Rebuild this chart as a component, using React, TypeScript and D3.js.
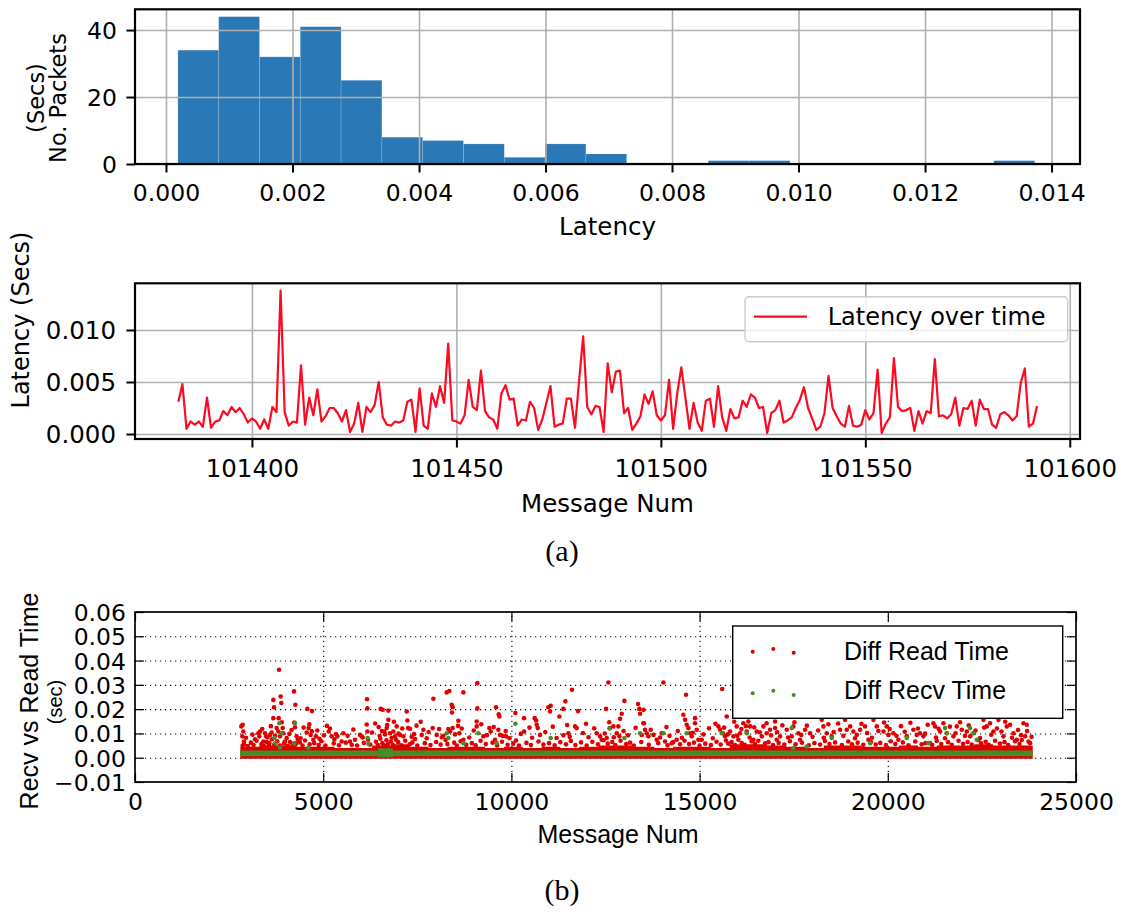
import React, { useEffect, useRef } from 'react';
import * as d3 from 'd3';

// ---- (a) top: histogram of latency ----
const histStart = 0.000188;
const histBinWidth = 0.000645;
const histCounts = [34, 44, 32, 41, 25, 8, 7, 6, 2, 6, 3, 0, 0, 1, 1, 0, 0, 0, 0, 0, 1];
const histXTicks = [0, 0.002, 0.004, 0.006, 0.008, 0.01, 0.012, 0.014];
const histYTicks = [0, 20, 40];

// ---- (a) bottom: latency over time (ms), one value per message ----
const firstMessage = 101382;
const latencyMs = [
  3.1, 4.8, 0.5, 1.2, 0.9, 1.2, 0.7, 3.5, 0.6, 1.2,
  1.3, 2.2, 1.8, 2.6, 2.1, 2.5, 1.9, 1.1, 1.5, 1.2,
  0.5, 1.4, 0.5, 2.6, 2.1, 13.8, 2.1, 0.8, 1.2, 1.1,
  6.6, 0.9, 3.5, 1.8, 4.3, 1.2, 1.7, 2.5, 2.5, 2.0,
  1.2, 2.3, 0.2, 1.0, 3.0, 0.2, 2.6, 2.1, 2.8, 5.0,
  1.6, 0.9, 0.8, 1.2, 1.1, 1.3, 3.1, 3.3, 0.2, 4.4,
  0.8, 0.5, 3.9, 2.6, 4.6, 3.0, 8.7, 1.3, 1.2, 1.0,
  1.8, 5.2, 2.6, 2.3, 6.1, 2.2, 1.6, 1.4, 0.5, 3.9,
  4.7, 3.3, 3.4, 0.8, 1.4, 1.3, 3.1, 2.5, 0.4, 1.4,
  3.0, 4.6, 0.7, 0.9, 1.0, 3.4, 3.4, 0.6, 5.1, 9.4,
  2.6, 1.9, 2.7, 2.6, 0.2, 6.8, 4.0, 6.0, 6.1, 2.0,
  2.5, 0.4, 1.0, 1.7, 3.8, 2.9, 4.1, 1.8, 1.3, 1.8,
  5.2, 0.5, 3.9, 6.4, 3.5, 0.5, 3.0, 1.1, 0.3, 3.2,
  3.4, 0.7, 4.6, 1.6, 0.3, 2.4, 1.5, 1.6, 3.2, 2.6,
  3.8, 3.5, 2.5, 2.6, 0.1, 2.0, 2.3, 3.2, 1.1, 1.3,
  1.6, 2.5, 3.3, 4.5, 2.5, 1.5, 0.4, 0.7, 2.0, 5.6,
  2.5, 1.7, 1.0, 0.7, 2.7, 0.8, 0.7, 0.9, 2.3, 1.4,
  2.0, 6.2, 0.1, 1.0, 1.6, 7.3, 2.6, 2.2, 2.3, 2.5,
  0.3, 2.2, 1.0, 2.2, 2.0, 7.2, 1.7, 1.8, 1.5, 1.9,
  3.5, 0.8, 2.5, 2.4, 3.2, 0.8, 3.3, 2.4, 2.4, 0.9,
  0.6, 1.9, 2.1, 1.8, 1.3, 1.7, 4.9, 6.3, 0.7, 1.0, 2.7,
];
const lineXTicks = [101400, 101450, 101500, 101550, 101600];
const lineYTicks = [0, 0.005, 0.01];

// ---- (b): recv vs read time (message num, ms) ----
const scatterXTicks = [0, 5000, 10000, 15000, 20000, 25000];
const scatterYTicks = [-0.01, 0, 0.01, 0.02, 0.03, 0.04, 0.05, 0.06];

// top of the dense red band, [message, ms]
const readBand = [
  [2800, 4.5], [3300, 5.0], [3800, 5.0], [4300, 4.5], [4800, 4.5], [5300, 4.0], [5800, 4.0],
  [6300, 5.0], [6800, 5.5], [7300, 4.5], [7800, 4.0], [8300, 4.5], [8800, 4.5], [9300, 4.0],
  [9800, 4.5], [10300, 4.0], [10800, 4.5], [11300, 4.0], [11800, 4.5], [12300, 5.0], [12800, 5.0],
  [13300, 4.5], [13800, 4.0], [14300, 4.5], [14800, 4.5], [15300, 4.0], [15800, 5.5], [16300, 5.5],
  [16800, 5.0], [17300, 4.5], [17800, 4.0], [18300, 5.0], [18800, 5.0], [19300, 4.5], [19800, 4.5],
  [20300, 5.0], [20800, 4.5], [21300, 5.0], [21800, 5.0], [22300, 5.5], [22800, 5.0], [23300, 5.0],
  [23850, 5.0],
];
// dense green band, [message, low ms, high ms]
const recvBand = [
  [2790, 0.6, 3.0], [6450, 0.2, 3.9], [6850, 0.6, 3.0], [23850, 0.6, 3.0],
];

const readPoints = [
  [2861, 13.6], [2825, 12.9], [2878, 10.8], [2852, 8.8], [2896, 6.7], [2861, 5.0], [3277, 10.1],
  [3321, 10.8], [3303, 8.8], [3454, 10.1], [3481, 8.8], [3410, 6.7], [3587, 9.4], [3631, 10.4],
  [3569, 6.0], [3675, 23.8], [3693, 20.8], [3675, 16.3], [3817, 16.3], [3826, 36.2], [3870, 25.2],
  [3888, 22.5], [3764, 12.2], [3808, 10.8], [3853, 8.8], [3923, 12.2], [3941, 10.1], [3985, 6.7],
  [4030, 8.1], [4225, 27.3], [4260, 21.8], [4233, 14.5], [4251, 12.5], [4295, 8.8], [4322, 7.4],
  [4579, 20.1], [4703, 19.2], [4632, 13.8], [4614, 12.2], [4561, 10.4], [4667, 9.4], [4738, 7.4],
  [4844, 11.2], [4809, 8.8], [5181, 12.0], [5146, 10.8], [5225, 8.8], [5340, 9.7], [5376, 8.8],
  [5535, 10.1], [5491, 6.7], [5713, 6.7], [5845, 7.4], [5978, 9.4], [6022, 8.8], [6164, 24.1],
  [6173, 20.3], [6155, 13.7], [6173, 10.8], [6191, 7.4], [6474, 12.6], [6527, 20.1], [6581, 19.7],
  [6731, 19.4], [6731, 15.6], [6687, 12.2], [6775, 10.1], [6625, 10.8], [6864, 10.8], [6908, 8.8],
  [6953, 12.9], [6935, 7.4], [7041, 9.4], [7130, 8.8], [7218, 19.0], [7236, 15.3], [7254, 12.2],
  [7307, 11.9], [7413, 9.7], [7440, 7.7], [7590, 14.8], [7617, 9.4], [7661, 11.5], [7927, 24.3],
  [7909, 12.2], [8015, 9.4], [8193, 9.0], [8281, 26.9], [8352, 27.5], [8414, 21.8], [8440, 20.8],
  [8423, 18.6], [8325, 11.8], [8370, 10.8], [8440, 12.2], [8591, 15.2], [8582, 13.1], [8617, 10.1],
  [8724, 26.9], [8724, 7.4], [9096, 30.7], [9096, 20.3], [9078, 14.9], [9078, 12.9], [9255, 8.8],
  [9415, 12.2], [9450, 10.8], [9592, 20.8], [9663, 17.9], [9681, 17.0], [9654, 11.5], [9698, 9.4],
  [9769, 9.0], [9858, 8.8], [9565, 7.4], [10106, 18.4], [10123, 7.1], [10336, 16.3], [10336, 10.8],
  [10619, 16.3], [10655, 15.3], [10673, 13.6], [10699, 12.2], [10761, 9.4], [10982, 20.8],
  [11044, 21.4], [11027, 19.0], [11275, 17.0], [11381, 9.2], [11434, 23.2], [11381, 20.1],
  [11514, 10.1], [11611, 28.0], [11691, 12.9], [11771, 19.2], [11735, 12.2], [11983, 14.0],
  [12267, 10.1], [12355, 8.8], [12400, 7.4], [12532, 8.1], [12577, 31.0], [12515, 20.1],
  [12621, 12.2], [12710, 12.9], [12842, 12.9], [12887, 16.0], [12931, 18.1], [13002, 23.4],
  [12798, 10.1], [12869, 8.8], [13365, 22.1], [13400, 20.1], [13418, 18.1], [13507, 14.2],
  [13551, 11.5], [13595, 10.1], [13640, 8.8], [13507, 19.7], [13524, 14.2], [13462, 9.4],
  [13772, 9.4], [13861, 7.4], [13994, 10.1], [14038, 31.0], [14082, 6.7], [14259, 6.0],
  [14392, 7.4], [14569, 17.7], [14614, 15.6], [14640, 25.9], [14658, 13.6], [14702, 12.2],
  [14747, 10.1], [14791, 8.8], [14880, 16.3], [14880, 14.2], [14924, 11.5], [14968, 7.4],
  [15057, 7.4], [15499, 12.9], [15544, 11.5], [15600, 28.3], [15615, 10.1], [15677, 8.8],
  [15721, 17.0], [15809, 10.8], [15898, 8.8], [15986, 12.9], [16075, 10.1], [16163, 14.2],
  [16252, 10.8], [16296, 14.9], [16341, 12.9], [16429, 7.4], [16518, 10.8], [16651, 8.8],
  [16695, 12.9], [16784, 10.1], [16872, 11.5], [17005, 14.9], [17005, 12.2], [17049, 7.4],
  [17138, 8.8], [17315, 11.5], [17448, 8.8], [17492, 12.9], [17625, 10.1], [17669, 7.4],
  [17802, 11.5], [17935, 10.1], [18245, 15.6], [18289, 12.9], [18378, 10.1], [18511, 8.8],
  [18732, 11.5], [18865, 15.6], [18909, 11.5], [19086, 10.8], [19175, 9.4], [19264, 11.5],
  [19396, 12.9], [19485, 7.4], [19618, 15.6], [19707, 12.9], [19884, 10.8], [19972, 12.9],
  [20016, 9.4], [20149, 10.1], [20282, 7.4], [20504, 8.8], [20681, 11.5], [20769, 9.4],
  [20858, 10.1], [20946, 8.8], [21123, 6.0], [21212, 14.2], [21256, 12.9], [21389, 10.8],
  [21478, 14.2], [21566, 10.1], [21744, 8.8], [21832, 12.9], [21965, 11.5], [22098, 10.8],
  [22187, 8.8], [22275, 10.1], [22541, 15.6], [22630, 12.9], [22718, 14.2], [22807, 10.8],
  [22940, 15.6], [23072, 8.8], [23161, 12.9], [23250, 13.6], [23338, 10.1], [23427, 7.4],
  [23604, 14.2], [23692, 13.6], [23648, 8.8], [23737, 6.7],
  [2900, 5.5], [3000, 4.8], [3080, 6.2], [3150, 5.2], [3230, 7.0], [3360, 5.6], [3420, 4.9],
  [3500, 6.4], [3560, 5.1], [3640, 7.6], [3700, 5.4], [3780, 6.8], [3850, 5.0], [3960, 5.9],
  [4060, 4.9], [4120, 6.5], [4190, 5.4], [4280, 5.8], [4380, 6.3], [4450, 5.0], [4520, 7.1],
  [4640, 5.5], [4760, 6.0], [4880, 5.2], [4950, 6.8], [5060, 5.0], [5280, 5.9], [5420, 5.1],
  [5600, 6.2], [5760, 5.3], [5900, 5.0], [6080, 6.1], [6250, 5.4], [6400, 6.6], [6450, 5.2],
  [6520, 7.8], [6570, 6.0], [6620, 5.1], [6680, 7.2], [6720, 5.6], [6800, 6.7], [6850, 5.3],
  [6990, 6.4], [7080, 5.1], [7180, 7.0], [7300, 5.5], [7370, 6.3], [7500, 5.0], [7700, 6.0],
  [7850, 5.2], [8000, 6.5], [8120, 5.4], [8250, 7.3], [8300, 5.6], [8480, 6.2], [8550, 5.0],
  [8650, 6.8], [8800, 5.3], [8950, 6.0], [9050, 5.1], [9180, 7.0], [9320, 5.6], [9500, 6.2],
  [9620, 5.0], [9750, 6.6], [9900, 5.3], [10050, 5.8], [10200, 5.0], [10400, 6.1], [10520, 5.2],
  [10720, 6.7], [10850, 5.4], [11000, 6.0], [11150, 5.1], [11300, 6.4], [11450, 5.5], [11580, 6.9],
  [11700, 5.2], [11850, 6.3], [12000, 5.0], [12150, 6.6], [12300, 5.5], [12450, 7.2], [12560, 5.8],
  [12680, 6.5], [12760, 5.2], [12900, 7.0], [13050, 5.6], [13150, 6.2], [13250, 5.0], [13450, 6.5],
  [13650, 5.3], [13900, 6.0], [14150, 5.1], [14300, 6.4], [14480, 5.5], [14600, 7.0], [14720, 5.6],
  [14850, 6.2], [15000, 5.0], [15150, 5.8], [15300, 5.2], [15450, 6.6], [15560, 5.4], [15700, 7.1],
  [15760, 5.8], [15850, 6.5], [15940, 5.2], [16030, 7.4], [16120, 6.0], [16200, 5.3], [16380, 6.8],
  [16470, 5.6], [16560, 7.0], [16740, 5.9], [16830, 6.4], [16950, 5.2], [17100, 6.1], [17250, 5.4],
  [17400, 6.8], [17550, 5.5], [17720, 6.2], [17900, 5.1], [18050, 6.0], [18200, 5.4], [18330, 6.9],
  [18450, 5.6], [18600, 6.3], [18780, 5.2], [18950, 6.7], [19050, 5.5], [19200, 6.2], [19350, 5.3],
  [19550, 6.5], [19680, 5.4], [19800, 6.1], [19950, 5.2], [20080, 6.8], [20200, 5.6], [20400, 6.3],
  [20550, 5.1], [20730, 6.7], [20900, 5.5], [21000, 6.0], [21180, 5.2], [21300, 6.9], [21420, 5.6],
  [21600, 6.4], [21700, 5.3], [21880, 7.0], [22000, 5.7], [22120, 6.5], [22230, 5.4], [22400, 7.2],
  [22480, 5.9], [22600, 6.6], [22680, 5.3], [22850, 7.0], [22980, 5.8], [23100, 6.4], [23200, 5.2],
  [23380, 6.8], [23500, 5.6], [23560, 7.3], [23780, 6.0],
  [2950, 8.2], [3120, 9.5], [3190, 7.6], [3380, 11.8], [3520, 8.4], [3610, 13.0], [3720, 9.0],
  [3900, 14.6], [4100, 9.8], [4160, 11.4], [4400, 8.0], [4480, 12.4], [4700, 10.9], [4900, 7.8],
  [5020, 9.2], [5100, 13.1], [5300, 7.6], [5650, 9.0], [5800, 11.6], [6050, 8.3], [6300, 10.4],
  [6380, 14.1], [6500, 8.9], [6560, 11.0], [6640, 9.6], [6700, 13.4], [6820, 8.2], [6880, 14.8],
  [7000, 9.9], [7100, 12.0], [7350, 8.6], [7480, 13.2], [7750, 8.0], [7800, 10.6], [8080, 11.8],
  [8150, 8.4], [8500, 9.6], [8680, 12.0], [8880, 8.3], [9000, 11.2], [9200, 13.8], [9350, 9.3],
  [9530, 12.6], [9850, 11.0], [9950, 8.0], [10250, 9.8], [10480, 12.4], [10550, 8.2], [10900, 10.6],
  [11100, 12.8], [11200, 8.1], [11480, 13.5], [11550, 8.6], [11900, 10.2], [12050, 8.4], [12200, 12.1],
  [12480, 10.0], [12600, 14.6], [12720, 8.4], [12980, 11.0], [13100, 9.2], [13300, 12.3], [13700, 11.5],
  [13950, 8.3], [14120, 12.6], [14200, 9.0], [14420, 11.0], [14530, 8.2], [14820, 10.3], [15100, 9.6],
  [15250, 12.1], [15350, 8.0], [15420, 14.0], [15650, 12.4], [15750, 9.6], [15920, 14.8], [16000, 9.0],
  [16110, 11.8], [16230, 13.0], [16330, 8.3], [16450, 12.5], [16600, 10.5], [16780, 14.2], [16900, 9.2],
  [17060, 10.5], [17200, 13.3], [17350, 8.3], [17520, 14.6], [17700, 9.4], [17850, 13.2], [18000, 8.6],
  [18150, 11.2], [18300, 8.2], [18420, 13.8], [18560, 10.6], [18680, 14.1], [18820, 9.0], [19000, 12.9],
  [19130, 8.0], [19300, 14.0], [19450, 10.2], [19580, 8.2], [19750, 11.0], [19900, 14.5], [20050, 11.8],
  [20230, 9.0], [20350, 13.0], [20450, 10.7], [20600, 14.4], [20800, 12.0], [20990, 9.9], [21060, 13.6],
  [21280, 8.3], [21350, 11.9], [21520, 8.0], [21650, 12.8], [21800, 10.1], [21920, 14.6], [22050, 9.0],
  [22150, 13.3], [22330, 11.2], [22450, 8.1], [22560, 12.4], [22750, 9.5], [22900, 12.0], [23020, 10.8],
  [23120, 14.8], [23300, 8.2], [23460, 11.4], [23540, 9.3], [23700, 11.0], [23820, 8.6],
];

const recvPoints = [
  [3835, 14.2], [3897, 10.1], [3702, 8.1], [3737, 6.0], [3853, 4.2], [4251, 14.2], [4233, 6.0],
  [4605, 4.1], [6182, 8.1], [6200, 5.7], [8281, 10.1], [8325, 8.1], [8724, 6.0], [9122, 10.1],
  [9609, 6.0], [10106, 14.0], [11044, 8.1], [12603, 12.0], [13002, 8.1], [13418, 10.1],
  [14038, 10.1], [14658, 10.1], [15588, 10.1], [16252, 10.1], [17448, 12.2], [17492, 3.9],
  [17846, 4.6], [18511, 8.1], [19529, 6.0], [20504, 8.1], [21079, 6.0], [21522, 12.2],
  [21566, 10.1], [22187, 12.2], [22275, 10.1], [22364, 7.4],
];

const dejavu = '"DejaVu Sans", sans-serif';
const helv = '"Liberation Sans", Arial, sans-serif';
const serif = '"Liberation Serif", "DejaVu Serif", serif';
const gridGray = '#b0b0b0';

const tidy = (g, font, size) => {
  g.select('.domain').remove();
  g.attr('font-family', null).attr('font-size', null);
  g.selectAll('.tick line').attr('stroke', '#000');
  g.selectAll('.tick text')
    .attr('fill', '#000')
    .style('font-family', font)
    .style('font-size', `${size}px`);
};

const App = () => {
  const svgRef = useRef(null);

  useEffect(() => {
    const svg = d3.select(svgRef.current);
    svg.selectAll('*').remove();
    const defs = svg.append('defs');

    // ================= histogram =================
    const hb = { left: 135, right: 1080, top: 9.3, bottom: 164 };
    const hx = d3.scaleLinear().domain([-0.00049, 0.01445]).range([hb.left, hb.right]);
    const hy = d3.scaleLinear().domain([0, 46.2]).range([hb.bottom, hb.top]);
    const bins = histCounts.map((c, i) => ({
      x0: histStart + i * histBinWidth,
      x1: histStart + (i + 1) * histBinWidth,
      count: c,
    }));

    svg.append('g')
      .selectAll('rect')
      .data(bins.filter((d) => d.count > 0))
      .join('rect')
      .attr('x', (d) => hx(d.x0))
      .attr('width', (d) => hx(d.x1) - hx(d.x0))
      .attr('y', (d) => hy(d.count))
      .attr('height', (d) => hy(0) - hy(d.count))
      .attr('fill', '#2a78b5')
      .attr('stroke', 'rgba(255,255,255,0.18)')
      .attr('stroke-width', 0.8);

    // grid on top of the bars
    svg.append('g')
      .attr('transform', `translate(0,${hb.bottom})`)
      .call(d3.axisBottom(hx).tickValues(histXTicks).tickSize(-(hb.bottom - hb.top)).tickFormat(() => ''))
      .call((g) => g.select('.domain').remove())
      .selectAll('line').attr('stroke', gridGray).attr('stroke-width', 1.6);
    svg.append('g')
      .attr('transform', `translate(${hb.left},0)`)
      .call(d3.axisLeft(hy).tickValues(histYTicks).tickSize(-(hb.right - hb.left)).tickFormat(() => ''))
      .call((g) => g.select('.domain').remove())
      .selectAll('line').attr('stroke', gridGray).attr('stroke-width', 1.6);

    const hxAxis = svg.append('g')
      .attr('transform', `translate(0,${hb.bottom})`)
      .call(d3.axisBottom(hx).tickValues(histXTicks).tickSize(8.5).tickFormat(d3.format('.3f')));
    tidy(hxAxis, dejavu, 23.5);
    hxAxis.selectAll('.tick line').attr('stroke-width', 2);
    hxAxis.selectAll('.tick text').attr('y', 37).attr('dy', null);

    const hyAxis = svg.append('g')
      .attr('transform', `translate(${hb.left},0)`)
      .call(d3.axisLeft(hy).tickValues(histYTicks).tickSize(8.5).tickFormat(d3.format('d')));
    tidy(hyAxis, dejavu, 23.5);
    hyAxis.selectAll('.tick line').attr('stroke-width', 2);
    hyAxis.selectAll('.tick text').attr('x', -18).attr('dy', '0.36em');

    svg.append('rect')
      .attr('x', hb.left).attr('y', hb.top)
      .attr('width', hb.right - hb.left).attr('height', hb.bottom - hb.top)
      .attr('fill', 'none').attr('stroke', '#000').attr('stroke-width', 2.2);

    svg.append('text')
      .attr('x', (hb.left + hb.right) / 2).attr('y', 234.5)
      .attr('text-anchor', 'middle')
      .style('font-family', dejavu).style('font-size', '24.5px')
      .text('Latency');

    [['(Secs)', 44], ['No. Packets', 66]].forEach(([label, bx]) => {
      svg.append('text')
        .attr('transform', `translate(${bx},98) rotate(-90)`)
        .attr('text-anchor', 'middle')
        .style('font-family', dejavu).style('font-size', '22.5px')
        .text(label);
    });

    // ================= latency over time =================
    const lb = { left: 135, right: 1080, top: 283.3, bottom: 439 };
    const lx = d3.scaleLinear().domain([101371.4, 101602.5]).range([lb.left, lb.right]);
    const ly = d3.scaleLinear().domain([-0.00048, 0.01449]).range([lb.bottom, lb.top]);

    svg.append('g')
      .attr('transform', `translate(0,${lb.bottom})`)
      .call(d3.axisBottom(lx).tickValues(lineXTicks).tickSize(-(lb.bottom - lb.top)).tickFormat(() => ''))
      .call((g) => g.select('.domain').remove())
      .selectAll('line').attr('stroke', gridGray).attr('stroke-width', 1.6);
    svg.append('g')
      .attr('transform', `translate(${lb.left},0)`)
      .call(d3.axisLeft(ly).tickValues(lineYTicks).tickSize(-(lb.right - lb.left)).tickFormat(() => ''))
      .call((g) => g.select('.domain').remove())
      .selectAll('line').attr('stroke', gridGray).attr('stroke-width', 1.6);

    defs.append('clipPath').attr('id', 'clip-line')
      .append('rect')
      .attr('x', lb.left).attr('y', lb.top)
      .attr('width', lb.right - lb.left).attr('height', lb.bottom - lb.top);

    const series = latencyMs.map((v, i) => ({ msg: firstMessage + i, lat: v / 1000 }));
    const line = d3.line()
      .x((d) => lx(d.msg))
      .y((d) => ly(d.lat));
    svg.append('path')
      .datum(series)
      .attr('clip-path', 'url(#clip-line)')
      .attr('fill', 'none')
      .attr('stroke', '#fc0a22')
      .attr('stroke-width', 2.2)
      .attr('stroke-linejoin', 'round')
      .attr('d', line);

    const lxAxis = svg.append('g')
      .attr('transform', `translate(0,${lb.bottom})`)
      .call(d3.axisBottom(lx).tickValues(lineXTicks).tickSize(8.5).tickFormat(d3.format('d')));
    tidy(lxAxis, dejavu, 24.5);
    lxAxis.selectAll('.tick line').attr('stroke-width', 2);
    lxAxis.selectAll('.tick text').attr('y', 38).attr('dy', null);

    const lyAxis = svg.append('g')
      .attr('transform', `translate(${lb.left},0)`)
      .call(d3.axisLeft(ly).tickValues(lineYTicks).tickSize(8.5).tickFormat(d3.format('.3f')));
    tidy(lyAxis, dejavu, 24.5);
    lyAxis.selectAll('.tick line').attr('stroke-width', 2);
    lyAxis.selectAll('.tick text').attr('x', -19).attr('dy', '0.36em');

    svg.append('rect')
      .attr('x', lb.left).attr('y', lb.top)
      .attr('width', lb.right - lb.left).attr('height', lb.bottom - lb.top)
      .attr('fill', 'none').attr('stroke', '#000').attr('stroke-width', 2.2);

    // legend
    const lleg = svg.append('g');
    lleg.append('rect')
      .attr('x', 745).attr('y', 296.7).attr('width', 322.7).attr('height', 45)
      .attr('rx', 4)
      .attr('fill', '#fff').attr('fill-opacity', 0.8)
      .attr('stroke', '#cccccc').attr('stroke-width', 1.4);
    lleg.append('line')
      .attr('x1', 754).attr('x2', 807).attr('y1', 316.7).attr('y2', 316.7)
      .attr('stroke', '#fc0a22').attr('stroke-width', 2.2);
    lleg.append('text')
      .attr('x', 827.7).attr('y', 325)
      .style('font-family', dejavu).style('font-size', '24px')
      .text('Latency over time');

    svg.append('text')
      .attr('x', (lb.left + lb.right) / 2).attr('y', 512)
      .attr('text-anchor', 'middle')
      .style('font-family', dejavu).style('font-size', '24.5px')
      .text('Message Num');
    svg.append('text')
      .attr('transform', 'translate(29,320) rotate(-90)')
      .attr('text-anchor', 'middle')
      .style('font-family', dejavu).style('font-size', '24px')
      .text('Latency (Secs)');

    svg.append('text')
      .attr('x', 562).attr('y', 561)
      .attr('text-anchor', 'middle')
      .style('font-family', serif).style('font-size', '30px')
      .text('(a)');

    // ================= recv vs read scatter =================
    const sb = { left: 135, right: 1076, top: 612, bottom: 782 };
    const sx = d3.scaleLinear().domain([0, 25000]).range([sb.left, sb.right]);
    const sy = d3.scaleLinear().domain([-0.01, 0.06]).range([sb.bottom, sb.top]);

    const dotted = (sel) => sel.selectAll('line')
      .attr('stroke', '#000').attr('stroke-width', 1.1).attr('stroke-dasharray', '1.2,3.8');
    svg.append('g')
      .attr('transform', `translate(0,${sb.bottom})`)
      .call(d3.axisBottom(sx).tickValues(scatterXTicks.slice(1, -1)).tickSize(-(sb.bottom - sb.top)).tickFormat(() => ''))
      .call((g) => g.select('.domain').remove())
      .call(dotted);
    svg.append('g')
      .attr('transform', `translate(${sb.left},0)`)
      .call(d3.axisLeft(sy).tickValues(scatterYTicks.slice(1, -1)).tickSize(-(sb.right - sb.left)).tickFormat(() => ''))
      .call((g) => g.select('.domain').remove())
      .call(dotted);

    defs.append('clipPath').attr('id', 'clip-scatter')
      .append('rect')
      .attr('x', sb.left).attr('y', sb.top)
      .attr('width', sb.right - sb.left).attr('height', sb.bottom - sb.top);
    const plot = svg.append('g').attr('clip-path', 'url(#clip-scatter)');

    const red = '#e00000';
    const green = '#4b8a2a';

    plot.append('path')
      .datum(readBand)
      .attr('fill', red)
      .attr('d', d3.area()
        .x((d) => sx(d[0]))
        .y0(sy(-0.0004))
        .y1((d) => sy(d[1] / 1000))
        .curve(d3.curveStepAfter));
    plot.append('g')
      .selectAll('circle')
      .data(readPoints)
      .join('circle')
      .attr('cx', (d) => sx(d[0]))
      .attr('cy', (d) => sy(d[1] / 1000))
      .attr('r', 2.3)
      .attr('fill', red);

    plot.append('path')
      .datum(recvBand)
      .attr('fill', green)
      .attr('d', d3.area()
        .x((d) => sx(d[0]))
        .y0((d) => sy(d[1] / 1000))
        .y1((d) => sy(d[2] / 1000))
        .curve(d3.curveStepAfter));
    plot.append('g')
      .selectAll('circle')
      .data(recvPoints)
      .join('circle')
      .attr('cx', (d) => sx(d[0]))
      .attr('cy', (d) => sy(d[1] / 1000))
      .attr('r', 2.3)
      .attr('fill', green);

    // ticks point inward on all four sides
    const sxAxis = svg.append('g')
      .attr('transform', `translate(0,${sb.bottom})`)
      .call(d3.axisBottom(sx).tickValues(scatterXTicks).tickSize(-9).tickFormat(d3.format('d')));
    tidy(sxAxis, dejavu, 23.5);
    sxAxis.selectAll('.tick line').attr('stroke-width', 1.2);
    sxAxis.selectAll('.tick text').attr('y', 28).attr('dy', null);

    const syAxis = svg.append('g')
      .attr('transform', `translate(${sb.left},0)`)
      .call(d3.axisLeft(sy).tickValues(scatterYTicks).tickSize(-9).tickFormat(d3.format('.2f')));
    tidy(syAxis, dejavu, 23.5);
    syAxis.selectAll('.tick line').attr('stroke-width', 1.2);
    syAxis.selectAll('.tick text').attr('x', -9).attr('dy', '0.36em');

    const sTop = svg.append('g')
      .attr('transform', `translate(0,${sb.top})`)
      .call(d3.axisTop(sx).tickValues(scatterXTicks).tickSize(-9).tickFormat(() => ''));
    tidy(sTop, dejavu, 10);
    sTop.selectAll('.tick line').attr('stroke-width', 1.2);
    const sRight = svg.append('g')
      .attr('transform', `translate(${sb.right},0)`)
      .call(d3.axisRight(sy).tickValues(scatterYTicks).tickSize(-9).tickFormat(() => ''));
    tidy(sRight, dejavu, 10);
    sRight.selectAll('.tick line').attr('stroke-width', 1.2);

    // legend
    const sleg = svg.append('g');
    sleg.append('rect')
      .attr('x', 732.7).attr('y', 626).attr('width', 330).attr('height', 92.3)
      .attr('fill', '#fff').attr('stroke', '#000').attr('stroke-width', 1.4);
    const legendRows = [
      { label: 'Diff Read Time', color: red, dotsY: [651.7, 649, 652.7], base: 660 },
      { label: 'Diff Recv Time', color: green, dotsY: [693.3, 690.7, 695], base: 699 },
    ];
    legendRows.forEach((row) => {
      sleg.append('g')
        .selectAll('circle')
        .data(row.dotsY)
        .join('circle')
        .attr('cx', (_, i) => [752.7, 773.3, 793.7][i])
        .attr('cy', (d) => d)
        .attr('r', 2)
        .attr('fill', row.color);
      sleg.append('text')
        .attr('x', 844).attr('y', row.base)
        .style('font-family', helv).style('font-size', '25px')
        .text(row.label);
    });

    svg.append('rect')
      .attr('x', sb.left).attr('y', sb.top)
      .attr('width', sb.right - sb.left).attr('height', sb.bottom - sb.top)
      .attr('fill', 'none').attr('stroke', '#000').attr('stroke-width', 1.7);

    svg.append('text')
      .attr('x', 618).attr('y', 843)
      .attr('text-anchor', 'middle')
      .style('font-family', helv).style('font-size', '25px')
      .text('Message Num');
    svg.append('text')
      .attr('transform', 'translate(37.5,701) rotate(-90)')
      .attr('text-anchor', 'middle')
      .style('font-family', helv).style('font-size', '25px')
      .text('Recv vs Read Time');
    svg.append('text')
      .attr('transform', 'translate(62,702) rotate(-90)')
      .attr('text-anchor', 'middle')
      .style('font-family', helv).style('font-size', '20px')
      .text('(sec)');

    svg.append('text')
      .attr('x', 562).attr('y', 900)
      .attr('text-anchor', 'middle')
      .style('font-family', serif).style('font-size', '30px')
      .text('(b)');
  }, []);

  return (
    <svg
      ref={svgRef}
      width={1125}
      height={912}
      style={{ position: 'absolute', left: 0, top: 0, background: '#fff' }}
    />
  );
};

export default App;
